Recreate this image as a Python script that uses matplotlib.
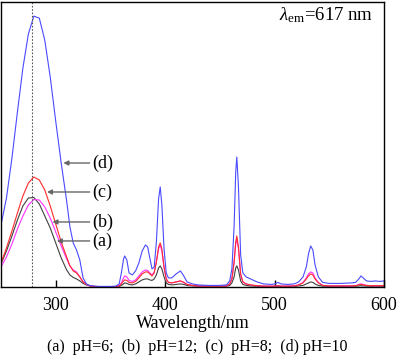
import matplotlib
matplotlib.use("Agg")
import matplotlib.pyplot as plt

plt.rcParams['font.family'] = ['Liberation Serif', 'DejaVu Serif']
plt.rcParams['mathtext.fontset'] = 'custom'
plt.rcParams['mathtext.rm'] = 'Liberation Serif'
plt.rcParams['mathtext.it'] = 'Liberation Serif:italic'

# excitation spectra (arbitrary intensity units)
wavelength = [250, 255, 260, 265, 270, 275, 280, 285, 290, 295, 300, 305, 310, 313, 316, 319,
              322, 325, 328, 331, 335, 340, 345, 350, 355, 358, 360, 362, 363, 365, 367, 370,
              373, 376, 379, 382, 384, 386, 388, 390, 392, 394, 395.5, 397, 399, 401, 403, 406,
              410, 414, 417, 420, 425, 430, 440, 450, 456, 459, 461, 463, 464.5, 465.5, 467, 469,
              471, 474, 478, 484, 490, 497, 500, 503, 506, 512, 518, 522, 526, 529, 531, 533,
              535, 537, 540, 544, 550, 560, 570, 574, 577, 579, 581, 584, 588, 592, 596, 600]

ph10_d = [62, 89, 129, 175, 219, 253, 271, 269, 247, 210, 166, 124, 86, 60, 44, 37,
          27, 9, 3, 1.5, 0.8, 0.5, 0.5, 0.5, 0.8, 3, 14, 28, 31, 27, 14, 12,
          16, 24, 36, 42, 40, 29, 18, 20, 45, 88, 100, 82, 38, 14, 9, 9,
          13, 16, 11, 5, 3, 2, 1.5, 1.5, 2, 6, 18, 60, 115, 130, 100, 32,
          14, 10, 8, 5, 3, 2.5, 3, 4.5, 3, 2.5, 3, 5, 10, 20, 33, 41,
          37, 22, 10, 4.5, 3.5, 3.5, 4, 4.5, 8, 11, 9, 6, 5.5, 6, 5.5, 6]

ph8_c = [24, 39, 56, 74, 91, 104, 110, 107, 97, 81, 63, 45, 30, 21, 16, 14,
         10, 5, 2.5, 1.2, 0.5, 0.3, 0.3, 0.3, 0.4, 1, 3, 6, 7, 6.5, 4.5, 4,
         5.5, 9, 13, 15, 15, 13, 11, 14, 25, 40, 44, 38, 20, 8, 4.5, 4,
         5, 6, 4.5, 2.5, 1.5, 1, 0.8, 0.8, 1, 3, 8, 25, 45, 51, 40, 13,
         5, 3, 2, 1.2, 0.8, 0.7, 0.8, 1.2, 0.8, 0.8, 1, 2, 4, 8, 11, 13,
         12, 8, 4, 1.5, 1, 1, 1, 1.2, 2, 2.5, 2, 1.5, 1.2, 1.2, 1.2, 1.3]

ph12_b = [20, 30, 43, 58, 71, 82, 87.5, 87, 80, 69, 55, 41, 28, 21, 17, 15,
          10, 5, 2.5, 1.2, 0.5, 0.3, 0.3, 0.3, 0.4, 1.2, 4, 9, 11, 10, 6.5, 5.5,
          7, 11, 15, 17, 16.5, 14, 12, 15, 25, 38, 42, 36, 19, 8, 4.5, 4,
          5, 6, 4.5, 2.5, 1.5, 1, 0.8, 0.8, 1, 3, 8, 24, 43, 48, 38, 12,
          5, 3, 2, 1.2, 0.8, 0.7, 0.8, 1.2, 0.8, 0.8, 1, 2, 4.5, 9, 13, 15,
          14, 9, 4.5, 1.5, 1, 1, 1, 1.2, 2.5, 3, 2.5, 1.5, 1.2, 1.2, 1.2, 1.3]

ph6_a = [23, 36, 51, 67, 81, 89, 89.5, 83, 71, 59, 44, 29, 17, 12, 9.5, 8,
         6, 3.5, 2, 1, 0.5, 0.3, 0.3, 0.3, 0.3, 0.6, 1.5, 3, 4, 3.5, 2.5, 2,
         3, 5, 7, 8, 8, 7, 6.5, 8, 12, 19, 21, 18, 10, 4, 2.5, 2,
         2.5, 3, 2.5, 1.5, 1, 0.7, 0.5, 0.5, 0.6, 1.5, 4, 10, 19, 21, 17, 6,
         2.5, 1.5, 1, 0.7, 0.5, 0.5, 0.5, 0.7, 0.5, 0.5, 0.6, 1, 1.5, 3, 4, 5,
         4.5, 3, 1.5, 0.8, 0.6, 0.6, 0.6, 0.7, 1, 1.2, 1, 0.8, 0.7, 0.7, 0.7, 0.7]

fig = plt.figure(figsize=(4, 3.6), dpi=100)
ax = fig.add_axes([0.0025, 0.203, 0.9575, 0.791])

ax.plot(wavelength, ph6_a, color='#404040', lw=0.8)
ax.plot(wavelength, ph12_b, color='#ff30ff', lw=0.8)
ax.plot(wavelength, ph8_c, color='#ff2a2a', lw=0.8)
ax.plot(wavelength, ph10_d, color='#4a4aff', lw=0.8)

ax.axvline(278, color='#555555', ls=(0, (1.5, 1.5)), lw=0.8)

# label arrows: (label, tip x, tip y)
labels = [('(d)', 307, 124), ('(c)', 292, 95), ('(b)', 297, 65), ('(a)', 301, 46)]
for txt, tx, ty in labels:
    ax.annotate('', xy=(tx, ty), xytext=(331, ty),
                arrowprops=dict(arrowstyle='-|>', color='#666666', lw=1,
                                mutation_scale=7, shrinkA=0, shrinkB=0))
    ax.text(333, ty, txt, fontsize=13, va='center', ha='left')

ax.text(0.972, 0.955, r'$\lambda_{\mathrm{em}}$=617 nm', transform=ax.transAxes,
        fontsize=13.5, ha='right', va='center')

ax.set_xlim(250, 600)
ax.set_ylim(0, 285)
ax.set_xticks([300, 400, 500, 600])
ax.set_yticks([])
ax.tick_params(axis='x', direction='in', length=5, width=1, labelsize=13, pad=7)
for s in ax.spines.values():
    s.set_linewidth(1)
ax.set_xlabel('Wavelength/nm', fontsize=13, labelpad=1)

fig.text(0.4925, 0.036, '(a)  pH=6;  (b)  pH=12;  (c)  pH=8;  (d) pH=10',
         fontsize=11.5, ha='center', va='center')

fig.savefig('out.png', dpi=100)
